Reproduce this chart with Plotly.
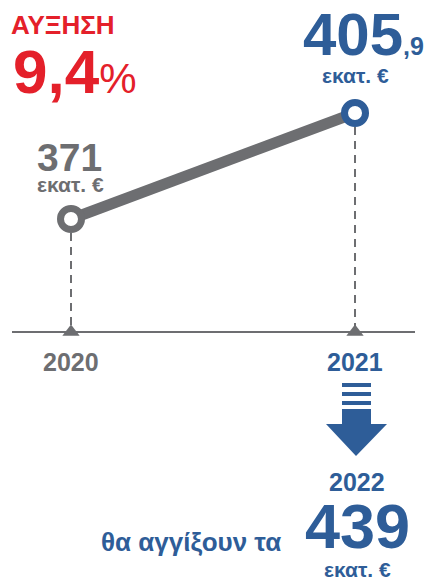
import plotly.graph_objects as go

# ---- data ----
years = [2020, 2021]
values = [371, 405.9]
forecast_year = 2022
forecast_value = 439
unit = "εκατ. €"

W, H = 428, 582
GRAY = "#6d6e71"
BLUE = "#2e5d98"
RED = "#e4202a"
FONT = "Liberation Sans, Arial, sans-serif"

# axis ranges (layout)
XR = [2019.75, 2021.257]
YR = [251.5, 443.1]
BASE_PX = 332  # baseline pixel row


def px(x):
    return x / W


def py(y):
    return 1 - y / H


baseline_val = YR[1] - (YR[1] - YR[0]) * BASE_PX / H


def fmt(v):
    s = f"{v:g}"
    return s.replace(".", ",")


growth = (values[1] / values[0] - 1) * 100

fig = go.Figure()

# dashed drop lines
for yr, v in zip(years, values):
    fig.add_trace(go.Scatter(x=[yr, yr], y=[v, baseline_val], mode="lines",
                             line=dict(color=GRAY, width=2, dash="8px,6px"),
                             hoverinfo="skip", showlegend=False))

# baseline
fig.add_shape(type="line", xref="paper", yref="y", x0=px(12), x1=px(415),
              y0=baseline_val, y1=baseline_val, line=dict(color=GRAY, width=2.2))

# tick triangles
fig.add_trace(go.Scatter(x=years, y=[baseline_val] * len(years), mode="markers",
                         marker=dict(symbol="triangle-up", size=15, color=GRAY),
                         hoverinfo="skip", showlegend=False))

# main line
fig.add_trace(go.Scatter(x=years, y=values, mode="lines+markers",
                         line=dict(color=GRAY, width=11),
                         marker=dict(size=21, color="white",
                                     line=dict(color=[GRAY, BLUE], width=7)),
                         showlegend=False))

ann = []


def A(text, x, y, size, color, xanchor="center", xref="paper", yref="paper",
      xshift=0, yshift=0, bold=True):
    ann.append(dict(text=(f"<b>{text}</b>" if bold else text), x=x, y=y, xref=xref, yref=yref,
                    xanchor=xanchor, yanchor="middle", showarrow=False,
                    xshift=xshift, yshift=yshift,
                    font=dict(family=FONT, size=size, color=color)))


# headline
A("ΑΥΞΗΣΗ", px(9), py(25), 26, RED, xanchor="left")
g = fmt(round(growth, 1))
A(f"{g}<span style='font-weight:normal;font-size:42px'>%</span>", px(11), py(71), 62, RED,
  xanchor="left")

# point labels
A(fmt(values[0]), years[0], values[0], 39, GRAY, xanchor="left", xref="x", yref="y",
  xshift=-36, yshift=62)
A(unit, years[0], values[0], 21, GRAY, xanchor="left", xref="x", yref="y",
  xshift=-36, yshift=35)
ip, dp = fmt(values[1]).split(",")
A(f"{ip}<span style='font-size:25px'>,{dp}</span>", years[1], values[1], 60, BLUE,
  xanchor="right", xref="x", yref="y", xshift=71, yshift=79)
A(unit, years[1], values[1], 21, BLUE, xref="x", yref="y", yshift=38)

# year labels
for yr, c in zip(years, [GRAY, BLUE]):
    A(str(yr), yr, py(362), 25, c, xref="x")

# arrow icon (decoration)
cx = 356
for yb in [385, 394, 403]:
    fig.add_shape(type="rect", xref="paper", yref="paper", x0=px(342), x1=px(371),
                  y0=py(yb - 2), y1=py(yb + 2), fillcolor=BLUE, line=dict(width=0))
path = (f"M {px(342)},{py(409)} L {px(371)},{py(409)} L {px(371)},{py(424)} "
        f"L {px(387)},{py(424)} L {px(cx)},{py(456)} L {px(326)},{py(424)} "
        f"L {px(342)},{py(424)} Z")
fig.add_shape(type="path", xref="paper", yref="paper", path=path,
              fillcolor=BLUE, line=dict(width=0))

A(str(forecast_year), px(357), py(482), 25, BLUE)
A("θα αγγίξουν τα", px(99), py(542), 26, BLUE, xanchor="left")
A(fmt(forecast_value), px(303), py(526), 63, BLUE, xanchor="left")
A(unit, px(357), py(569), 21, BLUE)

fig.update_layout(
    width=W, height=H, margin=dict(l=0, r=0, t=0, b=0),
    paper_bgcolor="white", plot_bgcolor="white",
    xaxis=dict(range=XR, visible=False, fixedrange=True),
    yaxis=dict(range=YR, visible=False, fixedrange=True),
    annotations=ann, showlegend=False,
)

fig.write_html("out.html", config={"displayModeBar": False},
               post_script="document.body.style.margin='0';document.body.style.overflow='hidden';")
